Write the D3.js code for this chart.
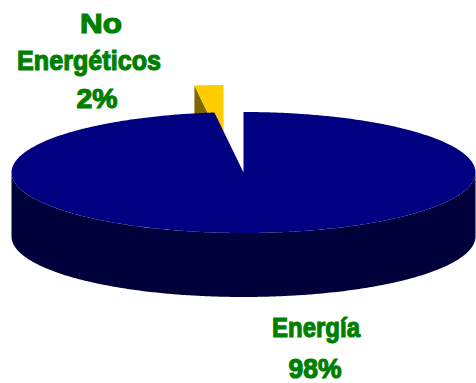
<!DOCTYPE html>
<html>
<head>
<meta charset="utf-8">
<script src="https://cdn.jsdelivr.net/npm/d3@7"></script>
<style>
  html, body { margin: 0; padding: 0; background: #fff; }
  svg { display: block; }
</style>
</head>
<body>
<div id="chart"></div>
<script>
// chart data
const categories = ["Energía", "No Energéticos"]
const values = [98, 2]
const topColors = ["#000080", "#ffcc00"]
const sideColors = ["#00003a", "#806600"]

// layout
const width = 476, height = 383
const cx = 243.5, cy = 172.5, rx = 232, ry = 60.5, depth = 64
const explode = [{dx: 0, dy: 0}, {dx: -20, dy: -27}]
// one entry per text line of each label (centre x, baseline y, width)
const labelLines = [
    [{x: 316, y: 337, w: 88}, {x: 315, y: 378, w: 53}],
    [{x: 101, y: 33, w: 42}, {x: 89, y: 70, w: 144}, {x: 97, y: 108, w: 41}]
]

var svg = d3.select('#chart').append('svg')
    .attr('width', width)
    .attr('height', height)

var pie = d3.pie().sort(null).value(d => d.value)
var total = d3.sum(values)
var pct = d3.format('.0%')
var slices = pie(categories.map((c, i) => ({name: c, value: values[i], i: i})))

function pt(a, ox, oy, dz) {
    return [cx + ox + rx * Math.sin(a), cy + oy - ry * Math.cos(a) + dz]
}
function arcPts(a0, a1, ox, oy, dz) {
    var n = Math.max(2, Math.ceil(Math.abs(a1 - a0) / 0.01))
    return d3.range(n + 1).map(k => pt(a0 + (a1 - a0) * k / n, ox, oy, dz))
}
var line = d3.line().curve(d3.curveLinearClosed)

// back slices first (largest cos of the middle angle = furthest away)
var order = slices.slice().sort((a, b) =>
    Math.cos((b.startAngle + b.endAngle) / 2) - Math.cos((a.startAngle + a.endAngle) / 2)
)

order.forEach(function(s) {
    var i = s.data.i
    var ox = explode[i].dx, oy = explode[i].dy
    var g = svg.append('g').attr('class', 'slice')
    var c0 = [cx + ox, cy + oy], c1 = [cx + ox, cy + oy + depth]

    // cut faces, only the ones turned to the viewer
    ;[[s.startAngle, s.startAngle - Math.PI / 2], [s.endAngle, s.endAngle + Math.PI / 2]].forEach(function(f) {
        if (Math.cos(f[1]) < -1e-6) {
            var p0 = pt(f[0], ox, oy, 0), p1 = pt(f[0], ox, oy, depth)
            g.append('path')
                .attr('d', line([c0, p0, p1, c1]))
                .attr('fill', sideColors[i])
        }
    })

    // outer rim, front half only
    var a0 = Math.max(s.startAngle, Math.PI / 2), a1 = Math.min(s.endAngle, 3 * Math.PI / 2)
    if (a1 > a0) {
        var pts = arcPts(a0, a1, ox, oy, 0).concat(arcPts(a1, a0, ox, oy, depth))
        g.append('path')
            .attr('d', line(pts))
            .attr('fill', sideColors[i])
    }

    // top face
    g.append('path')
        .attr('d', line([c0].concat(arcPts(s.startAngle, s.endAngle, ox, oy, 0))))
        .attr('fill', topColors[i])
})

// labels
slices.forEach(function(s) {
    var i = s.data.i
    var lines = s.data.name.split(' ').concat([pct(s.data.value / total)])
    svg.append('g').attr('class', 'label')
        .selectAll('text')
        .data(lines)
        .join('text')
        .attr('x', (d, k) => labelLines[i][k].x)
        .attr('y', (d, k) => labelLines[i][k].y)
        .attr('textLength', (d, k) => labelLines[i][k].w)
        .attr('lengthAdjust', 'spacingAndGlyphs')
        .attr('text-anchor', 'middle')
        .style('font-family', '"Liberation Sans", Arial, sans-serif')
        .style('font-weight', 'bold')
        .style('font-size', '28px')
        .style('fill', '#008000')
        .style('stroke', '#008000')
        .style('stroke-width', 1.2)
        .text(d => d)
})
</script>
</body>
</html>
